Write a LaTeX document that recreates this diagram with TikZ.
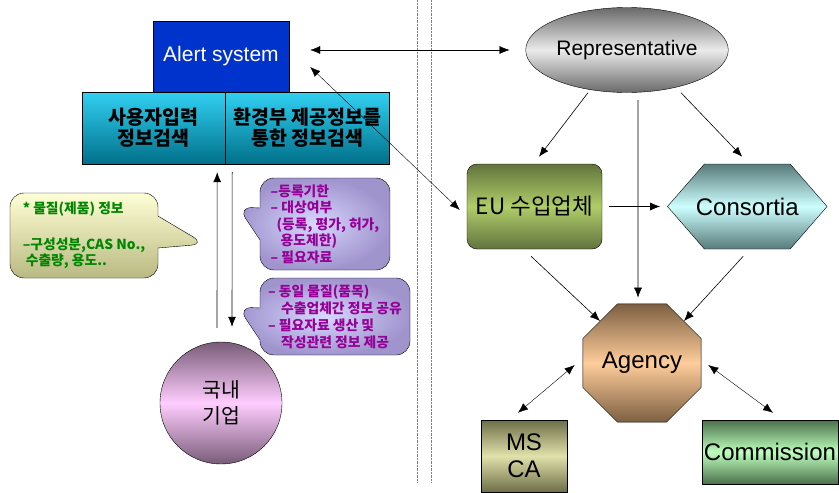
\documentclass[tikz,border=0pt]{standalone}
\usepackage{fontspec}
\setmainfont{Liberation Sans}
\newfontfamily\kr{Noto Sans CJK KR}
\usetikzlibrary{positioning,shapes.geometric,shapes.symbols,shapes.callouts,arrows.meta}
\definecolor{alertc}{RGB}{0,51,204}
\definecolor{cyanl}{RGB}{50,208,242}
\definecolor{cyand}{RGB}{0,112,138}
\definecolor{greyd}{RGB}{105,105,105}
\definecolor{greyl}{RGB}{235,235,235}
\definecolor{eud}{RGB}{98,115,62}
\definecolor{eul}{RGB}{175,205,105}
\definecolor{consd}{RGB}{88,122,122}
\definecolor{consl}{RGB}{205,255,255}
\definecolor{agd}{RGB}{125,95,65}
\definecolor{agl}{RGB}{255,205,155}
\definecolor{msd}{RGB}{110,110,72}
\definecolor{msl}{RGB}{225,225,172}
\definecolor{comd}{RGB}{75,112,75}
\definecolor{coml}{RGB}{190,255,190}
\definecolor{corpd}{RGB}{120,92,120}
\definecolor{corpl}{RGB}{255,205,255}
\definecolor{noted}{RGB}{185,185,130}
\definecolor{notel}{RGB}{255,255,214}
\definecolor{notetx}{RGB}{0,135,0}
\definecolor{infod}{RGB}{160,148,205}
\definecolor{infol}{RGB}{215,215,255}
\definecolor{infotx}{RGB}{150,0,150}
\tikzset{
  entity/.style = {draw,thin,align=center,inner sep=1pt},
  big/.style = {font=\fontsize{24}{27}\selectfont},
  mid/.style = {font=\fontsize{21}{24}\selectfont},
  srch/.style = {entity,top color=cyanl,bottom color=cyand,minimum height=72pt,
    font=\kr\bfseries\fontsize{19.5}{21}\selectfont},
  shd/.style 2 args = {top color=#1,bottom color=#1,middle color=#2},
  bubble/.style = {rectangle callout,rounded corners=14pt,draw,thin,align=left,
    inner sep=1pt,callout pointer width=32pt},
  arr/.style = {-{Latex[length=10pt,width=8pt]},semithick},
  dbl/.style = {{Latex[length=10pt,width=8pt]}-{Latex[length=10pt,width=8pt]},thin},
  divider/.style = {densely dotted,gray,thin}
}

\begin{document}
\begin{tikzpicture}[x=1pt,y=-1pt]
\useasboundingbox (0,0) rectangle (839,493);

\draw[divider] (417,0) -- (417,483);
\draw[divider] (431,0) -- (431,483);

% left side
\node[entity,fill=alertc,text=white,mid,minimum width=136pt,minimum height=71pt] (alert) at (221,56.5) {Alert system};
\node[srch,minimum width=143pt] (srch1) at (153.5,128) {사용자입력\\정보검색};
\node[srch,minimum width=164pt,right=0pt of srch1] (srch2) {환경부 제공정보를\\통한 정보검색};

\node[bubble,top color=notel,bottom color=noted,minimum width=148pt,minimum height=85pt,
  callout absolute pointer={(205,244)},text=notetx,font=\kr\bfseries\fontsize{13.8}{16.5}\selectfont] (note) at (84,235.5)
  {* 물질(제품) 정보\\[19pt]–구성성분,CAS No.,\\\hspace*{3pt}수출량, 용도..};

\node[bubble,inner color=infol,outer color=infod,minimum width=130pt,minimum height=92pt,
  callout absolute pointer={(238,207)},text=infotx,font=\kr\bfseries\fontsize{13.8}{16.5}\selectfont] (info1) at (325,224)
  {–등록기한\\– 대상여부\\\hspace*{6pt}(등록, 평가, 허가,\\\hspace*{10pt}용도제한)\\– 필요자료};

\node[bubble,inner color=infol,outer color=infod,minimum width=150pt,minimum height=77pt,
  callout absolute pointer={(238,307)},text=infotx,font=\kr\bfseries\fontsize{13.8}{17}\selectfont] (info2) at (335,316.5)
  {– 동일 물질(품목)\\\hspace*{13pt}수출업체간 정보 공유\\– 필요자료 생산 및\\\hspace*{13pt}작성관련 정보 제공};

\node[entity,circle,shd={corpd}{corpl},minimum size=122pt,font=\kr\fontsize{20.5}{26}\selectfont] (corp) at (221,403) {국내\\기업};

\draw[arr] ([xshift=-4pt,yshift=14pt]corp.north) -- ([xshift=-8pt,yshift=-8pt]srch2.south west);
\draw[arr] ([xshift=7pt,yshift=-8pt]srch2.south west) -- ([xshift=11pt,yshift=15pt]corp.north);

% right side
\node[entity,ellipse,shd={greyd}{greyl},mid,minimum width=178pt,minimum height=85pt] (rep) at (627,50) {Representative};
\node[entity,rounded corners=10pt,shd={eud}{eul},minimum width=135pt,minimum height=85pt,
  font=\kr\fontsize{22.5}{24}\selectfont] (eu) at (534.5,206.5) {EU 수입업체};
\node[entity,signal,signal to=east and west,signal pointer angle=98,shd={consd}{consl},big,
  inner xsep=-8.5pt,minimum height=85pt,right=65pt of eu] (cons) {Consortia};
\node[entity,regular polygon,regular polygon sides=8,shd={agd}{agl},big,minimum size=128pt,inner sep=0pt] (agency) at (642,363) {Agency};
\node[entity,shd={msd}{msl},big,minimum width=86pt,minimum height=72pt] (msca) at (524,456) {MS\\CA};
\node[entity,shd={comd}{coml},big,minimum width=136pt,minimum height=64pt,inner sep=0pt] (comm) at (770,452) {Commission};

\draw[dbl] ([xshift=21pt,yshift=6.5pt]alert.east) -- ([xshift=-16pt]rep.west);
\draw[dbl] ([xshift=21pt,yshift=-10.5pt]alert.east) -- ([xshift=-7pt,yshift=-3.5pt]eu.west);

\draw[arr] ([xshift=-39pt]rep.south) -- ([xshift=4.5pt,yshift=7pt]eu.north);
\draw[arr] ([xshift=54pt]rep.south) -- ([xshift=-5pt,yshift=7pt]cons.north);
\draw[arr] ([xshift=11pt,yshift=-7.5pt]rep.south) -- ([xshift=-4pt,yshift=6pt]agency.north);
\draw[arr] ([xshift=7pt]eu.east) -- ([xshift=-7pt]cons.west);
\draw[arr] ([xshift=-3.5pt,yshift=-7pt]eu.south) -- (agency.north west);
\draw[arr] ([xshift=-4pt,yshift=-7pt]cons.south) -- (agency.north east);

\draw[dbl] ([xshift=-8pt,yshift=-2pt]agency.west) -- ([xshift=-6pt,yshift=7pt]msca.north);
\draw[dbl] ([xshift=7pt,yshift=-2pt]agency.east) -- ([xshift=3pt,yshift=7pt]comm.north);
\end{tikzpicture}
\end{document}
